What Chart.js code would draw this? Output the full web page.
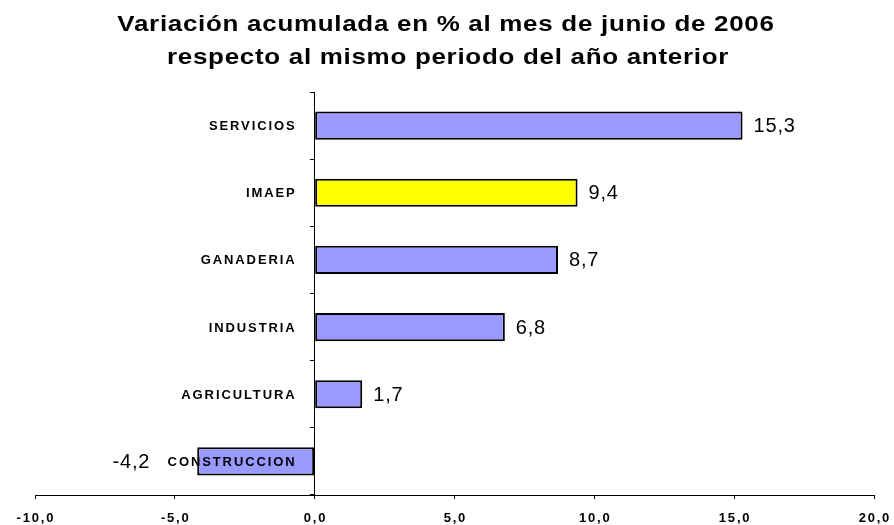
<!DOCTYPE html>
<html>
<head>
<meta charset="utf-8">
<script src="https://cdn.jsdelivr.net/npm/chart.js@4"></script>
<style>
  html, body { margin: 0; padding: 0; background: #ffffff; }
  #wrap { width: 894px; height: 525px; }
</style>
</head>
<body>
<div id="wrap"><canvas id="c" width="894" height="525"></canvas></div>
<script>
const titleLines = ['Variación acumulada en % al mes de junio de 2006', 'respecto al mismo periodo del año anterior'];
const categories = ['SERVICIOS', 'IMAEP', 'GANADERIA', 'INDUSTRIA', 'AGRICULTURA', 'CONSTRUCCION'];
const values = [15.3, 9.4, 8.7, 6.8, 1.7, -4.2];
const highlighted = ['IMAEP'];
const xMin = -10;
const xMax = 20;
const xStep = 5;

const FONT = '"Liberation Sans", Arial, Helvetica, sans-serif';
const fmt = v => v.toFixed(1).replace('.', ',');

function stretchedText(ctx, text, cx, y, sx) {
  ctx.save();
  ctx.translate(cx, y);
  ctx.scale(sx, 1);
  ctx.fillText(text, 0, 0);
  ctx.restore();
}

const textPlugin = {
  id: 'textPlugin',
  afterDraw(chart) {
    const ctx = chart.ctx;
    const xs = chart.scales.x;
    const ys = chart.scales.y;
    ctx.save();
    ctx.fillStyle = '#000000';

    // Title
    ctx.font = 'bold 22px ' + FONT;
    ctx.letterSpacing = '0.6px';
    ctx.textAlign = 'center';
    ctx.textBaseline = 'alphabetic';
    stretchedText(ctx, titleLines[0], 446, 31, 1.18);
    stretchedText(ctx, titleLines[1], 448, 64, 1.18);

    // X tick labels
    ctx.font = 'bold 13px ' + FONT;
    ctx.letterSpacing = '1.8px';
    ctx.textAlign = 'center';
    ctx.textBaseline = 'alphabetic';
    xs.ticks.forEach(t => {
      ctx.fillText(fmt(t.value), xs.getPixelForValue(t.value) + 0.9, 522);
    });

    // Category labels
    const zeroX = xs.getPixelForValue(0);
    ctx.font = 'bold 13px ' + FONT;
    ctx.letterSpacing = '1.9px';
    ctx.textAlign = 'right';
    ctx.textBaseline = 'middle';
    categories.forEach((c, i) => {
      ctx.fillText(c, zeroX - 20 + 1.9, ys.getPixelForValue(i) + 1);
    });

    // Value labels
    ctx.font = '20px ' + FONT;
    ctx.letterSpacing = '0.8px';
    ctx.textBaseline = 'middle';
    values.forEach((v, i) => {
      const px = xs.getPixelForValue(v);
      const py = ys.getPixelForValue(i) + 1;
      if (v >= 0) {
        ctx.textAlign = 'left';
        ctx.fillText(fmt(v), px + 11, py);
      } else {
        ctx.textAlign = 'right';
        ctx.fillText(fmt(v), px - 47, py);
      }
    });
    ctx.restore();
  }
};

new Chart(document.getElementById('c'), {
  type: 'bar',
  data: {
    labels: categories,
    datasets: [{
      data: values,
      backgroundColor: categories.map(c => highlighted.includes(c) ? '#FFFF00' : '#9999FF'),
      borderColor: '#000000',
      borderWidth: 2,
      borderSkipped: false,
      barPercentage: 0.42,
      categoryPercentage: 1.0
    }]
  },
  options: {
    indexAxis: 'y',
    responsive: false,
    animation: false,
    devicePixelRatio: 1,
    layout: { padding: { left: 35, right: 20, top: 92, bottom: 0 } },
    plugins: {
      legend: { display: false },
      title: { display: false },
      tooltip: { enabled: false }
    },
    scales: {
      x: {
        type: 'linear',
        position: 'bottom',
        min: xMin,
        max: xMax,
        ticks: { stepSize: xStep, display: false },
        grid: { drawOnChartArea: false, drawTicks: true, tickLength: 4, color: '#000000', lineWidth: 1 },
        border: { display: true, color: '#000000', width: 1 },
        afterFit(scale) { scale.height = 30; }
      },
      y: {
        type: 'category',
        position: { x: 0 },
        offset: true,
        ticks: { display: false },
        grid: { offset: true, drawOnChartArea: false, drawTicks: true, tickLength: 4, color: '#000000', lineWidth: 1 },
        border: { display: true, color: '#000000', width: 1 }
      }
    }
  },
  plugins: [textPlugin]
});
</script>
</body>
</html>
